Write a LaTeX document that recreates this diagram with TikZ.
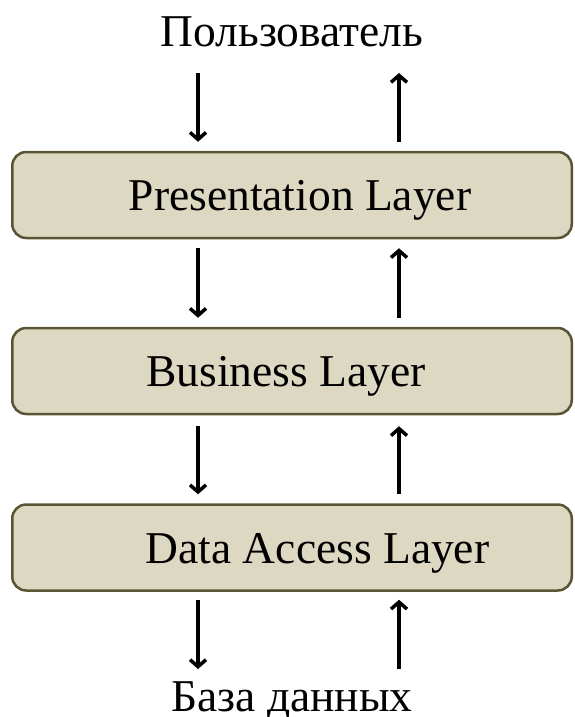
\documentclass[tikz,border=0pt]{standalone}
\usepackage{fontspec}
\setmainfont{Liberation Serif}
\usetikzlibrary{arrows.meta}
\definecolor{boxfill}{HTML}{DDD8C2}
\definecolor{boxline}{HTML}{5A5434}
\begin{document}
\begin{tikzpicture}[x=1pt,y=-1pt,
  layer/.style={draw=boxline, fill=boxfill, line width=2.5pt, rounded corners=14pt,
    minimum width=559.5pt, minimum height=86pt, inner sep=0pt,
    text height=31pt, text depth=0pt,
    font=\fontsize{45.5}{50}\selectfont},
  endtext/.style={anchor=base, inner sep=0pt, font=\fontsize{45.5}{50}\selectfont},
  arr/.style={line width=3.5pt, -{Straight Barb[length=7pt,width=16pt]}}]
\useasboundingbox (0,0) rectangle (574,717);
\node[endtext] (user) at (292,47) {Пользователь};
\node[layer] (b1) at (292,195) {\hspace*{16pt}Presentation Layer};
\node[layer] (b2) at (292,371) {Business Layer\hspace*{12pt}};
\node[layer] (b3) at (292,547.5) {\hspace*{51pt}Data Access Layer};
\node[endtext] (db) at (292,711) {База данных};
\coordinate (L) at (198,0);
\coordinate (R) at (399,0);
\coordinate (uTop) at (0,73);
% user <-> b1
\draw[arr] (uTop -| L) -- ([yshift=9pt]b1.north -| L);
\draw[arr] ([yshift=9pt]b1.north -| R) -- (uTop -| R);
% b1 <-> b2
\draw[arr] ([yshift=-9pt]b1.south -| L) -- ([yshift=9pt]b2.north -| L);
\draw[arr] ([yshift=9pt]b2.north -| R) -- ([yshift=-9pt]b1.south -| R);
% b2 <-> b3
\draw[arr] ([yshift=-11pt]b2.south -| L) -- ([yshift=9pt]b3.north -| L);
\draw[arr] ([yshift=9pt]b3.north -| R) -- ([yshift=-11pt]b2.south -| R);
% b3 <-> db
\coordinate (dTip) at (0,669);
\draw[arr] ([yshift=-8pt]b3.south -| L) -- (dTip -| L);
\draw[arr] (dTip -| R) -- ([yshift=-8pt]b3.south -| R);
\end{tikzpicture}
\end{document}
